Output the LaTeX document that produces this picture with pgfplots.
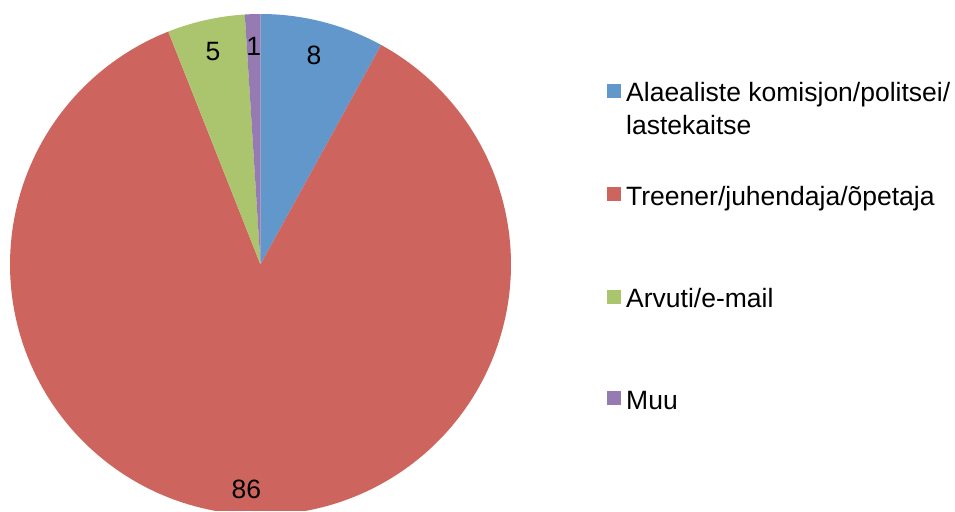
\documentclass[border=0pt]{standalone}
\usepackage{pgfplots}
\pgfplotsset{compat=1.18}
\usepackage{fontspec}
\setmainfont{Liberation Sans}
\definecolor{pieblue}{RGB}{98,151,204}
\definecolor{piered}{RGB}{205,101,94}
\definecolor{piegreen}{RGB}{171,197,110}
\definecolor{piepurple}{RGB}{150,122,178}

% shares (per cent)
\def\vA{8}\def\vB{86}\def\vC{5}\def\vD{1}
% centre and radius of the pie, in px of the reference (1px = 1pt)
\def\cx{260.5}\def\cy{246.5}\def\R{250.5}
\pgfmathsetmacro{\aA}{90}
\pgfmathsetmacro{\aB}{\aA-3.6*\vA}
\pgfmathsetmacro{\aC}{\aB-3.6*\vB}
\pgfmathsetmacro{\aD}{\aC-3.6*\vC}
\pgfmathsetmacro{\aE}{\aD-3.6*\vD}

\begin{document}
\begin{tikzpicture}[x=1pt,y=1pt]
\useasboundingbox (0,0) rectangle (955,511);
\begin{axis}[at={(0,0)}, anchor=south west, scale only axis,
  width=955pt, height=511pt, xmin=0, xmax=955, ymin=0, ymax=511,
  hide axis, clip=true]
\addplot[fill=pieblue, draw=none, domain=\aB:\aA, samples=40]
  ({\cx+\R*cos(x)},{\cy+\R*sin(x)}) -- (axis cs:\cx,\cy) -- cycle;
\addplot[fill=piered, draw=none, domain=\aC:\aB, samples=200]
  ({\cx+\R*cos(x)},{\cy+\R*sin(x)}) -- (axis cs:\cx,\cy) -- cycle;
\addplot[fill=piegreen, draw=none, domain=\aD:\aC, samples=30]
  ({\cx+\R*cos(x)},{\cy+\R*sin(x)}) -- (axis cs:\cx,\cy) -- cycle;
\addplot[fill=piepurple, draw=none, domain=\aE:\aD, samples=10]
  ({\cx+\R*cos(x)},{\cy+\R*sin(x)}) -- (axis cs:\cx,\cy) -- cycle;
\begin{scope}[every node/.style={font=\fontsize{26.5}{30}\selectfont}]
\node at (axis cs:{\cx+0.86*\R*cos((\aA+\aB)/2)},{\cy+0.86*\R*sin((\aA+\aB)/2)}) {\vA};
\node at (axis cs:{\cx+0.90*\R*cos((\aB+\aC)/2)},{\cy+0.90*\R*sin((\aB+\aC)/2)}) {\vB};
\node at (axis cs:{\cx+0.87*\R*cos((\aC+\aD)/2)},{\cy+0.87*\R*sin((\aC+\aD)/2)}) {\vC};
\node at (axis cs:{\cx+0.87*\R*cos((\aD+\aE)/2)},{\cy+0.87*\R*sin((\aD+\aE)/2)}) {\vD};
\end{scope}
\end{axis}
% legend
\begin{scope}[every node/.style={font=\fontsize{26.5}{33}\selectfont, anchor=base west, inner sep=0pt}]
\fill[pieblue] (607,413) rectangle ++(14,14);
\node at (626,409) {Alaealiste komisjon/politsei/};
\node at (626,376) {lastekaitse};
\fill[piered] (607,310) rectangle ++(14,14);
\node at (626,305) {Treener/juhendaja/õpetaja};
\fill[piegreen] (607,207) rectangle ++(14,14);
\node at (626,203) {Arvuti/e-mail};
\fill[piepurple] (607,106) rectangle ++(14,14);
\node at (626,101) {Muu};
\end{scope}
\end{tikzpicture}
\end{document}
